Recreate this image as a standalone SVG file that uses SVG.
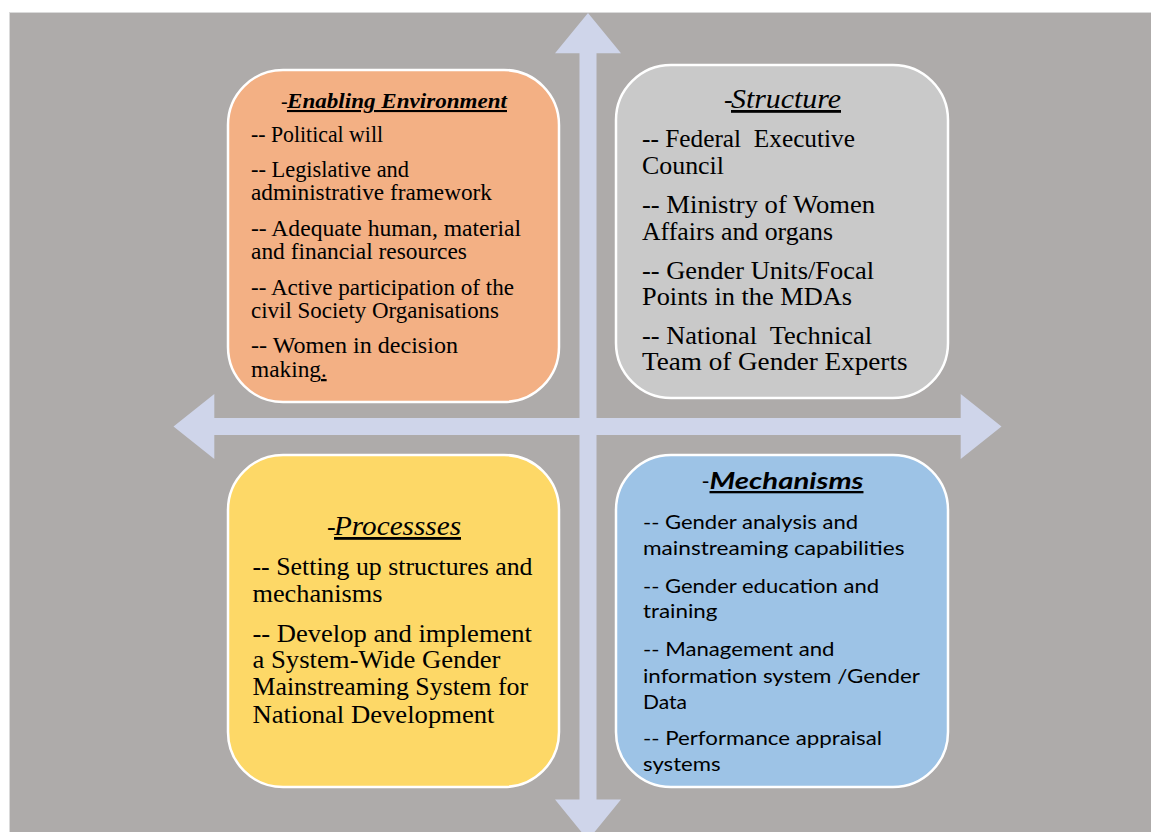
<svg xmlns="http://www.w3.org/2000/svg" width="1151" height="832" viewBox="0 0 1151 832">
  <style>
    .bg { fill: #AEABAA; stroke: #DADADA; stroke-width: 1; }
    .axis { fill: #CFD5EA; }
    .box { stroke: #FFFFFF; stroke-width: 2.5; }
    .serif { font-family: "Liberation Serif", "Times New Roman", serif; fill: #000; }
    .sans { font-family: "Lato", "Liberation Sans", Arial, sans-serif; fill: #000; }
    .ttl { font-style: italic; text-decoration: underline; }
    .pre { white-space: pre; }
  </style>

  <rect width="1151" height="832" fill="#FFFFFF"/>
  <rect class="bg" x="9.5" y="12.5" width="1150" height="830"/>

  <!-- four-way axis arrow -->
  <g id="connectors">
    <path class="axis" d="M588,13 L621,53.3 L596.5,53.3 L596.5,418 L960.7,418 L960.7,394 L1001.5,426.5 L960.7,459 L960.7,435 L596.5,435 L596.5,799.5 L621,799.5 L588,840 L555,799.5 L579.5,799.5 L579.5,435 L214.3,435 L214.3,459 L173.5,426.5 L214.3,394 L214.3,418 L579.5,418 L579.5,53.3 L555,53.3 Z"/>
  </g>

  <!-- Enabling Environment -->
  <g id="enabling-environment">
    <rect class="box" x="228" y="70" width="331" height="332" rx="55" ry="55" fill="#F3B084"/>
    <text class="serif" x="281" y="108" font-size="20">-</text>
    <text class="serif ttl" x="287" y="108" font-size="21" font-weight="bold" textLength="220" lengthAdjust="spacingAndGlyphs">Enabling Environment</text>
    <g class="serif" font-size="22.5">
      <text x="251" y="142" textLength="132" lengthAdjust="spacingAndGlyphs">-- Political will</text>
      <text x="251" y="177" textLength="158" lengthAdjust="spacingAndGlyphs">-- Legislative and</text>
      <text x="251" y="200" textLength="241" lengthAdjust="spacingAndGlyphs">administrative framework</text>
      <text x="251" y="236" textLength="270" lengthAdjust="spacingAndGlyphs">-- Adequate human, material</text>
      <text x="251" y="259" textLength="216" lengthAdjust="spacingAndGlyphs">and financial resources</text>
      <text x="251" y="295" textLength="263" lengthAdjust="spacingAndGlyphs">-- Active participation of the</text>
      <text x="251" y="318" textLength="248" lengthAdjust="spacingAndGlyphs">civil Society Organisations</text>
      <text x="251" y="353" textLength="207" lengthAdjust="spacingAndGlyphs">-- Women in decision</text>
      <text x="251" y="377" textLength="70" lengthAdjust="spacingAndGlyphs">making</text>
      <text x="321" y="377" text-decoration="underline">.</text>
    </g>
  </g>

  <!-- Structure -->
  <g id="structure">
    <rect class="box" x="616" y="65" width="332" height="333" rx="55" ry="55" fill="#C9C9C9"/>
    <text class="serif" x="724" y="108" font-size="26">-</text>
    <text class="serif ttl" x="731" y="108" font-size="28" textLength="110" lengthAdjust="spacingAndGlyphs">Structure</text>
    <g class="serif" font-size="24.5">
      <text class="pre" x="642" y="147" textLength="213" lengthAdjust="spacingAndGlyphs">-- Federal  Executive</text>
      <text x="642" y="174" textLength="82" lengthAdjust="spacingAndGlyphs">Council</text>
      <text x="642" y="213" textLength="233" lengthAdjust="spacingAndGlyphs">-- Ministry of Women</text>
      <text x="642" y="239.5" textLength="191" lengthAdjust="spacingAndGlyphs">Affairs and organs</text>
      <text x="642" y="278.5" textLength="232" lengthAdjust="spacingAndGlyphs">-- Gender Units/Focal</text>
      <text x="642" y="305" textLength="210" lengthAdjust="spacingAndGlyphs">Points in the MDAs</text>
      <text class="pre" x="642" y="343.5" textLength="230" lengthAdjust="spacingAndGlyphs">-- National  Technical</text>
      <text x="642" y="370" textLength="265.5" lengthAdjust="spacingAndGlyphs">Team of Gender Experts</text>
    </g>
  </g>

  <!-- Processes -->
  <g id="processes">
    <rect class="box" x="228" y="455" width="331" height="332" rx="55" ry="55" fill="#FDD867"/>
    <text class="serif" x="327" y="535" font-size="26">-</text>
    <text class="serif ttl" x="334" y="535" font-size="28" textLength="127" lengthAdjust="spacingAndGlyphs">Processses</text>
    <g class="serif" font-size="24.5">
      <text x="252.5" y="575" textLength="280" lengthAdjust="spacingAndGlyphs">-- Setting up structures and</text>
      <text x="252.5" y="601.5" textLength="130" lengthAdjust="spacingAndGlyphs">mechanisms</text>
      <text x="252.5" y="641.5" textLength="279.5" lengthAdjust="spacingAndGlyphs">-- Develop and implement</text>
      <text x="252.5" y="668" textLength="248" lengthAdjust="spacingAndGlyphs">a System-Wide Gender</text>
      <text x="252.5" y="695" textLength="275.5" lengthAdjust="spacingAndGlyphs">Mainstreaming System for</text>
      <text x="252.5" y="722.5" textLength="242" lengthAdjust="spacingAndGlyphs">National Development</text>
    </g>
  </g>

  <!-- Mechanisms -->
  <g id="mechanisms">
    <rect class="box" x="616" y="455" width="332" height="332" rx="55" ry="55" fill="#9DC3E6"/>
    <text class="sans" x="701.5" y="489" font-size="22">-</text>
    <text class="sans ttl" x="709.5" y="489" font-size="23" font-weight="bold" textLength="154" lengthAdjust="spacingAndGlyphs">Mechanisms</text>
    <g class="sans" font-size="20">
      <text x="643" y="529" textLength="215" lengthAdjust="spacingAndGlyphs">-- Gender analysis and</text>
      <text x="643" y="555" textLength="261.5" lengthAdjust="spacingAndGlyphs">mainstreaming capabilities</text>
      <text x="643" y="592.5" textLength="236" lengthAdjust="spacingAndGlyphs">-- Gender education and</text>
      <text x="643" y="618" textLength="74.5" lengthAdjust="spacingAndGlyphs">training</text>
      <text x="643" y="656" textLength="191.5" lengthAdjust="spacingAndGlyphs">-- Management and</text>
      <text x="643" y="682.5" textLength="277" lengthAdjust="spacingAndGlyphs">information system /Gender</text>
      <text x="643" y="708.5" textLength="44" lengthAdjust="spacingAndGlyphs">Data</text>
      <text x="643" y="744.5" textLength="239" lengthAdjust="spacingAndGlyphs">-- Performance appraisal</text>
      <text x="643" y="770.5" textLength="77.5" lengthAdjust="spacingAndGlyphs">systems</text>
    </g>
  </g>
</svg>
